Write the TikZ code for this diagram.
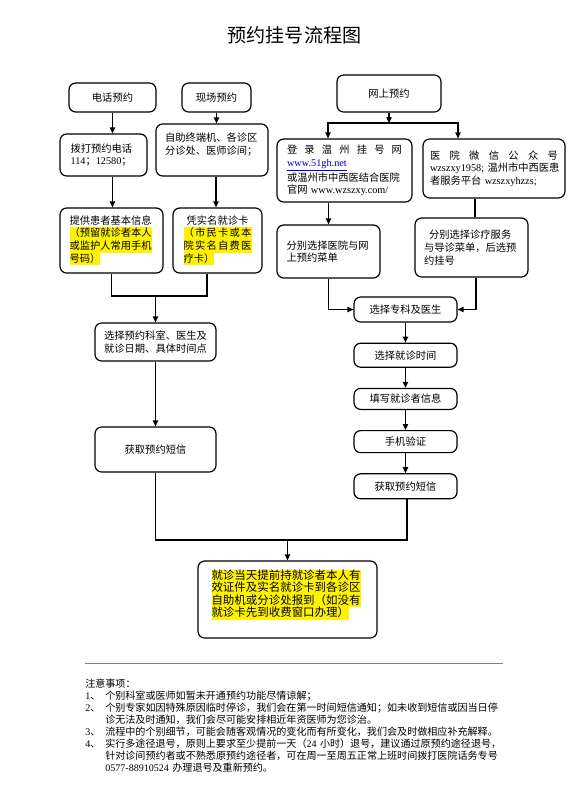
\documentclass[tikz,border=0pt]{standalone}
\usepackage{fontspec}
\setmainfont{Noto Sans CJK SC}
\newfontfamily\latinfont{Liberation Serif}
\usepackage{xcolor}
\usetikzlibrary{arrows.meta, positioning, calc}
\definecolor{linkblue}{RGB}{0,0,204}
\newcommand{\lat}[1]{{\latinfont #1}}
\newcommand{\hl}[1]{{\setlength{\fboxsep}{0pt}\colorbox{yellow}{\rule[-0.25\baselineskip]{0pt}{\baselineskip}\smash{#1}}}}
\newcommand{\spreadline}[1]{\makebox[\hsize]{#1}}
\newcommand{\noteitem}[1]{\makebox[15pt][l]{\lat{#1}、}}
\newcommand{\noteindent}{\hspace*{15pt}}

\begin{document}
\begin{tikzpicture}[
  x=0.75pt, y=-0.75pt,
  box/.style={rectangle, draw, rounded corners=5pt, line width=0.9pt, inner sep=0pt,
              align=left, font={\fontsize{7.7pt}{9.5pt}\selectfont}},
  wh/.style 2 args={minimum width=#1*0.75pt, minimum height=#2*0.75pt},
  arr/.style={-{Triangle[length=4.5pt, width=4pt]}, line width=0.9pt},
  ln/.style={line width=0.9pt},
  node distance=15pt
]
  \fill[white] (0,0) rectangle (588,800);
  \node[font={\fontsize{14.3pt}{16pt}\selectfont}] (title) at (294.5,35) {预约挂号流程图};

  % phone and on-site booking
  \node[box, wh={87}{29}, align=center] (phone) at (112.5,97.5) {电话预约};
  \node[box, wh={69}{29}, align=center] (onsite) at (216.5,97.5) {现场预约};
  \node[box, wh={87}{42}, text width=49.5pt] (dial) at (103.5,155) {拨打预约电话\\\lat{114}；\lat{12580}；};
  \node[box, wh={112}{52}, text width=70.5pt] (kiosk) at (212,150) {自助终端机、各诊区\\分诊处、医师诊间；\\\mbox{}};
  \node[box, wh={103}{65}, text width=63pt] (info) at (111.5,240.5)
    {提供患者基本信息\\\hl{（预留就诊者本人}\\\hl{或监护人常用手机}\\\hl{号码）}};
  \node[box, wh={89}{65}, text width=51pt] (card) at (217.5,240.5)
    {\makebox[\hsize]{凭实名就诊卡}\\\hl{\spreadline{（\hfill 市\hfill 民\hfill 卡\hfill 或\hfill 本}}\\\hl{\spreadline{院\hfill 实\hfill 名\hfill 自\hfill 费\hfill 医}}\\\hl{疗卡）}};
  \node[box, wh={121}{38}, align=center] (choose) at (155.5,342) {选择预约科室、医生及\\就诊日期、具体时间点};
  \node[box, wh={121}{45}, align=center] (smsL) at (155.5,449.5) {获取预约短信};

  % online booking
  \node[box, wh={104}{37}, align=center] (online) at (389,93.5) {网上预约};
  \node[box, wh={135}{63}, text width=86.25pt] (web) at (344.5,170.5)
    {\spreadline{登\hfill 录\hfill 温\hfill 州\hfill 挂\hfill 号\hfill 网}\\\textcolor{linkblue}{\underline{\lat{www.51gh.net}}}\\或温州市中西医结合医院\\\mbox{官网 \lat{www.wzszxy.com/}}};
  \node[box, wh={142}{59}, text width=96pt] (wechat) at (494,168.5)
    {\spreadline{医\hfill 院\hfill 微\hfill 信\hfill 公\hfill 众\hfill 号}\\\mbox{\lat{wzszxy1958;} 温州市中西医患}\\\mbox{者服务平台 \lat{wzszxyhzzs;}}};
  \node[box, wh={103}{53}, text width=63pt] (webmenu) at (328.5,251.5) {分别选择医院与网\\上预约菜单};
  \node[box, wh={113}{59}, text width=71.25pt] (wxmenu) at (471.5,247.5)
    {\hspace*{0.5em}分别选择诊疗服务\\与导诊菜单，后选预\\约挂号};
  \node[box, wh={103}{25}, align=center] (dept) at (405.5,309.5) {选择专科及医生};
  \node[box, wh={103}{24}, align=center, below=of dept] (time) {选择就诊时间};
  \node[box, wh={103}{21}, align=center, below=of time] (fillin) {填写就诊者信息};
  \node[box, wh={103}{22}, align=center, below=of fillin] (verify) {手机验证};
  \node[box, wh={103}{25}, align=center, below=of verify] (smsR) {获取预约短信};

  \node[box, wh={179}{77}, text width=114pt, font={\fontsize{8.6pt}{9.4pt}\selectfont}] (final) at (287.5,599.5)
    {\hl{就诊当天提前持就诊者本人有}\\\hl{效证件及实名就诊卡到各诊区}\\\hl{自助机或分诊处报到（如没有}\\\hl{就诊卡先到收费窗口办理）}\\\mbox{}};

  % connectors
  \coordinate (joinL) at (155.5,296);
  \coordinate (joinB) at (287.5,540);
  \coordinate (split) at (389,123);
  \draw[arr] (phone.south) -- (phone.south |- dial.north);
  \draw[arr] (onsite.south) -- (onsite.south |- kiosk.north);
  \draw[arr] (phone.south |- dial.south) -- (phone.south |- info.north);
  \draw[arr] ([shift={(-1.5,0)}]card.north |- kiosk.south) -- ([shift={(-1.5,0)}]card.north);
  \draw[ln] (info.south) |- (joinL) -| ([shift={(-10.5,0)}]card.south);
  \draw[arr] (joinL) -- (choose.north);
  \draw[arr] (choose.south) -- (smsL.north);
  \draw[arr] (online.south) -- (split);
  \draw[arr] (split) -| ([shift={(-16.5,0)}]web.north);
  \draw[arr] (split) -| ([shift={(-36,0)}]wechat.north);
  \draw[arr] (webmenu.north |- web.south) -- (webmenu.north);
  \draw[ln] ([shift={(3.5,0)}]wxmenu.north |- wechat.south) -- ([shift={(3.5,0)}]wxmenu.north);
  \draw[arr] (webmenu.south) |- (dept.west);
  \draw[arr] ([shift={(4.5,0)}]wxmenu.south) |- (dept.east);
  \draw[arr] (dept) -- (time);
  \draw[arr] (time) -- (fillin);
  \draw[arr] (fillin) -- (verify);
  \draw[arr] (verify) -- (smsR);
  \draw[ln] (smsL.south) |- (joinB) -| ([shift={(1.5,0)}]smsR.south);
  \draw[arr] (joinB) -- (final.north);

  % notes
  \draw[gray, line width=0.6pt] (85,663) -- (503,663);
  \node[anchor=north west, inner sep=0pt, text width=330pt, align=left,
        font={\fontsize{7.55pt}{9pt}\selectfont}] (notes) at (85,679)
    {注意事项：\\
     \noteitem{1}个别科室或医师如暂未开通预约功能尽情谅解；\\
     \noteitem{2}个别专家如因特殊原因临时停诊，我们会在第一时间短信通知；如未收到短信或因当日停\\
     \noteindent 诊无法及时通知，我们会尽可能安排相近年资医师为您诊治。\\
     \noteitem{3}流程中的个别细节，可能会随客观情况的变化而有所变化，我们会及时做相应补充解释。\\
     \noteitem{4}实行多途径退号，原则上要求至少提前一天（\lat{24} 小时）退号，建议通过原预约途径退号，\\
     \noteindent 针对诊间预约者或不熟悉原预约途径者，可在周一至周五正常上班时间拨打医院话务专号\\
     \noteindent\lat{0577-88910524} 办理退号及重新预约。};
\end{tikzpicture}
\end{document}
